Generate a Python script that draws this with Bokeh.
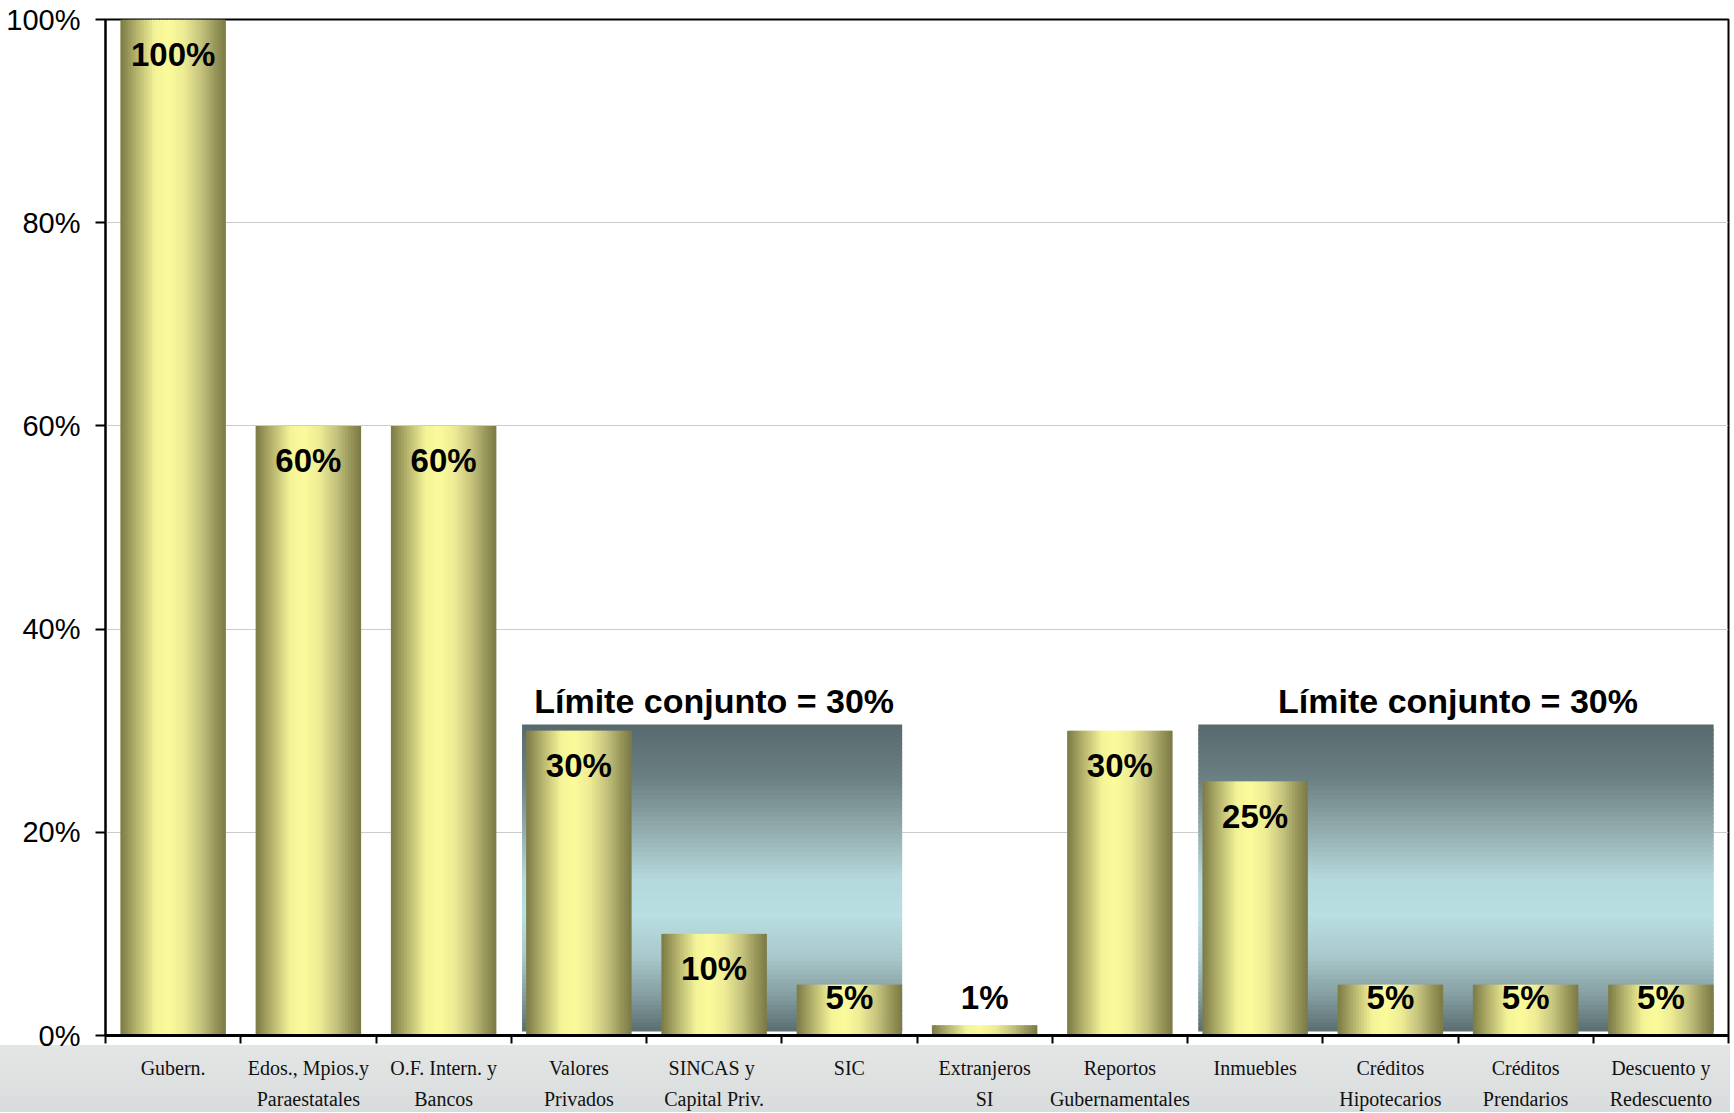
from bokeh.plotting import figure
from bokeh.models import Range1d, FixedTicker, LinearAxis
from bokeh.core.properties import value
from bokeh.embed import file_html
from bokeh.resources import INLINE

# ---------------- data ----------------
categories_line1 = ["Gubern.", "Edos., Mpios.y", "O.F. Intern. y", "Valores", "SINCAS  y",
                    "SIC", "Extranjeros", "Reportos", "Inmuebles", "Créditos",
                    "Créditos", "Descuento y"]
categories_line2 = ["", "Paraestatales", "Bancos", "Privados", "Capital Priv.",
                    "", "SI", "Gubernamentales", "", "Hipotecarios",
                    "Prendarios", "Redescuento"]
limits = [100, 60, 60, 30, 10, 5, 1, 30, 25, 5, 5, 5]          # % limit per category
bar_labels = ["100%", "60%", "60%", "30%", "10%", "5%", "1%", "30%", "25%", "5%", "5%", "5%"]
group_first = [3, 8]       # first category index in each joint-limit group
group_last = [5, 11]       # last category index in each joint-limit group
group_limit = [30, 30]     # joint limit %
group_text = ["Límite conjunto = 30%", "Límite conjunto = 30%"]
y_ticks = [0, 20, 40, 60, 80, 100]
y_tick_labels = ["0%", "20%", "40%", "60%", "80%", "100%"]

# ---------------- style helpers ----------------
def hex2rgb(h):
    h = h.lstrip("#")
    return tuple(int(h[i:i + 2], 16) for i in (0, 2, 4))

def interp(stops, t):
    for (t0, c0), (t1, c1) in zip(stops[:-1], stops[1:]):
        if t0 <= t <= t1:
            a = (t - t0) / (t1 - t0) if t1 > t0 else 0
            r0, g0, b0 = hex2rgb(c0)
            r1, g1, b1 = hex2rgb(c1)
            return "#%02x%02x%02x" % (round(r0 + (r1 - r0) * a), round(g0 + (g1 - g0) * a),
                                       round(b0 + (b1 - b0) * a))
    return stops[-1][1]

bar_stops = [(0.0, "#7a7a44"), (0.15, "#b4b26c"), (0.33, "#f4f498"), (0.45, "#fbfb9c"),
             (0.6, "#eeec95"), (0.76, "#c6c47e"), (0.9, "#97965a"), (1.0, "#7b7a44")]
box_stops = [(0.0, "#58696c"), (0.18, "#6c8184"), (0.35, "#94aeb0"), (0.5, "#b4d8db"),
             (0.62, "#b9dfe2"), (0.76, "#a8c7ca"), (0.89, "#829b9e"), (1.0, "#5a6d71")]

n = len(limits)
centers = [i + 0.5 for i in range(n)]
bw = 0.78

W, H = 1730, 1112
p = figure(width=W, height=H, x_range=Range1d(0, n), y_range=Range1d(0, 100),
           output_backend="svg", toolbar_location=None, x_axis_type=None,
           min_border_left=105, min_border_right=2, min_border_top=19, min_border_bottom=0,
           background_fill_color="white", border_fill_color=None)
p.outline_line_color = "black"
p.outline_line_width = 2
# white page with the grey strip under the category axis
p.styles = {"background": "linear-gradient(to bottom, #ffffff 0px, #ffffff 1045px, "
                          "#e4e6e6 1045px, #d9dcdc 1112px)"}

# ---------------- joint-limit boxes (vertical gradient) ----------------
NB = 70
bl, br, bt, bb, bc = [], [], [], [], []
for g0, g1, lim in zip(group_first, group_last, group_limit):
    left = centers[g0] - bw / 2 - 0.03
    right = centers[g1] + bw / 2
    top = lim + 0.6
    bottom = 0.4
    dh = (top - bottom) / NB
    for k in range(NB):
        t1 = top - k * dh
        t0 = max(bottom, t1 - dh * 1.6)
        bl.append(left); br.append(right); bt.append(t1); bb.append(t0)
        bc.append(interp(box_stops, (k + 0.5) / NB))
p.quad(left=bl, right=br, top=bt, bottom=bb, fill_color=bc, line_color=None)

# ---------------- bars (horizontal gradient) ----------------
NS = 40
ql, qr, qt, qb, qc = [], [], [], [], []
for c, v in zip(centers, limits):
    left = c - bw / 2
    dw = bw / NS
    for k in range(NS):
        x0 = left + k * dw
        x1 = min(left + bw, x0 + dw * 1.6)
        ql.append(x0); qr.append(x1); qt.append(v); qb.append(0)
        qc.append(interp(bar_stops, (k + 0.5) / NS))
p.quad(left=ql, right=qr, top=qt, bottom=qb, fill_color=qc, line_color=None)

# ---------------- value labels ----------------
label_y = [max(v - 3.4, 3.7) for v in limits]
p.text(x=centers, y=label_y, text=bar_labels, text_font=value("Liberation Sans"),
       text_font_style="bold", text_font_size="33px", text_align="center",
       text_baseline="middle", text_color="black")

# group titles
gx = [(centers[a] - bw / 2 + centers[b] + bw / 2) / 2 for a, b in zip(group_first, group_last)]
gy = [lim + 2.9 for lim in group_limit]
p.text(x=gx, y=gy, text=group_text, text_font=value("Liberation Sans"), text_font_style="bold",
       text_font_size="34px", text_align="center", text_baseline="middle", text_color="black")

# ---------------- y axis ----------------
p.yaxis.ticker = FixedTicker(ticks=y_ticks)
p.yaxis.major_label_overrides = {t: s for t, s in zip(y_ticks, y_tick_labels)}
p.yaxis.axis_line_width = 2
p.yaxis.axis_line_color = "black"
p.yaxis.major_tick_out = 10
p.yaxis.major_tick_in = 0
p.yaxis.major_tick_line_width = 2
p.yaxis.minor_tick_line_color = None
p.yaxis.major_label_standoff = 15
p.yaxis.major_label_text_font = "Liberation Sans"
p.yaxis.major_label_text_font_size = "29px"
p.yaxis.major_label_text_color = "black"
p.ygrid.ticker = FixedTicker(ticks=y_ticks[1:-1])
p.ygrid.grid_line_color = "#cccccc"
p.ygrid.grid_line_width = 1

# ---------------- x axes (two label lines) ----------------
xa = LinearAxis(ticker=FixedTicker(ticks=centers, minor_ticks=list(range(n + 1))),
                major_label_overrides={c: s for c, s in zip(centers, categories_line1)})
xa.axis_line_width = 3
xa.axis_line_color = "black"
xa.major_tick_line_color = None
xa.major_tick_out = 0
xa.major_tick_in = 0
xa.minor_tick_line_color = "black"
xa.minor_tick_line_width = 2
xa.minor_tick_out = 8
xa.minor_tick_in = 0
xa.major_label_standoff = 13
xa.major_label_text_font = "Liberation Serif"
xa.major_label_text_font_size = "20px"
xa.major_label_text_color = "#111111"
p.add_layout(xa, "below")

xb = LinearAxis(ticker=FixedTicker(ticks=centers),
                major_label_overrides={c: (s if s else " ") for c, s in zip(centers, categories_line2)})
xb.axis_line_color = None
xb.major_tick_line_color = None
xb.minor_tick_line_color = None
xb.major_tick_out = 0
xb.major_tick_in = 0
xb.major_label_standoff = 6
xb.major_label_text_font = "Liberation Serif"
xb.major_label_text_font_size = "20px"
xb.major_label_text_color = "#111111"
p.add_layout(xb, "below")

open("out.html", "w").write(file_html(p, INLINE))
